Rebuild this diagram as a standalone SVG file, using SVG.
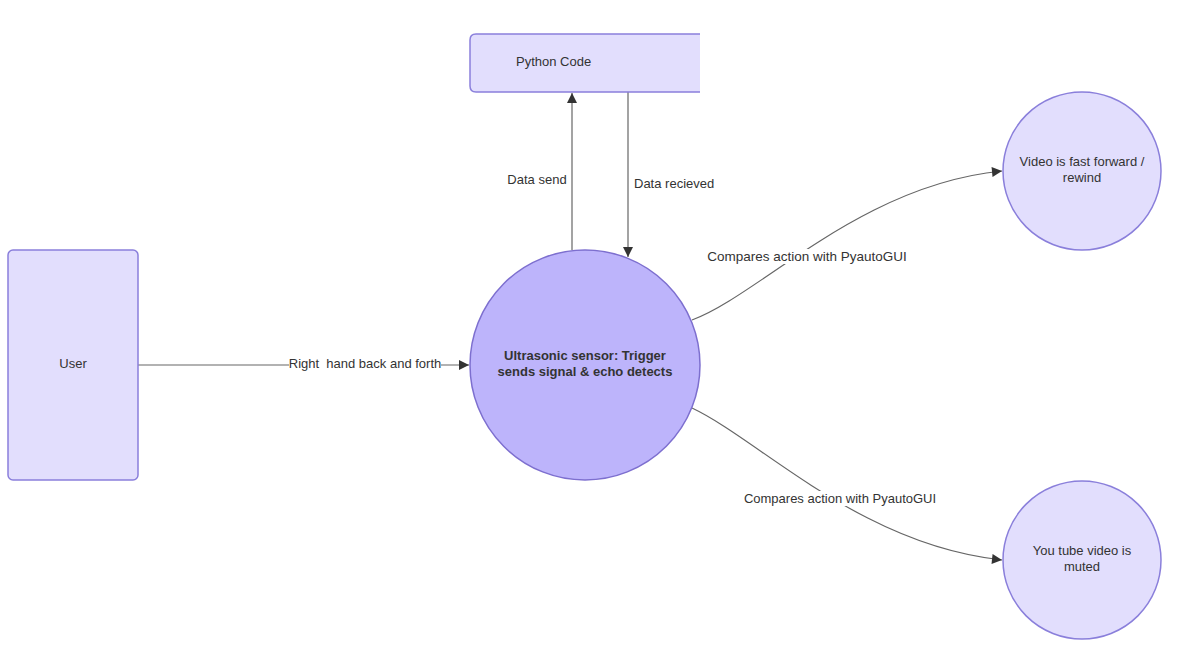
<svg xmlns="http://www.w3.org/2000/svg" width="1179" height="671" viewBox="0 0 1179 671">
<style>
text{font-family:"Liberation Sans",Arial,sans-serif;font-size:13px;fill:#333;}
.c{text-anchor:middle;}
.node{fill:#e2defd;stroke:#8a7fdb;stroke-width:1.5;}
.main{fill:#bdb4fb;stroke:#7d6fcf;stroke-width:1.5;}
.edge{fill:none;stroke:#666;stroke-width:1.2;}
.bg{fill:#fff;}
</style>
<defs>
<marker id="arr" viewBox="0 0 10 10" refX="10" refY="5" markerWidth="12" markerHeight="10" markerUnits="userSpaceOnUse" orient="auto">
<path d="M0,0 L10,5 L0,10 z" fill="#333"/>
</marker>
</defs>
<rect width="1179" height="671" fill="#fff"/>
<g id="connectors">
<path class="edge" d="M138,365 L469,365" marker-end="url(#arr)"/>
<path class="edge" d="M572,250 L572,93" marker-end="url(#arr)"/>
<path class="edge" d="M628,92 L628,257" marker-end="url(#arr)"/>
<path class="edge" d="M692,320 C760,295 860,185 1002,171" marker-end="url(#arr)"/>
<path class="edge" d="M692,408 C760,440 860,545 1002,560" marker-end="url(#arr)"/>
<rect class="bg" x="289" y="356" width="152" height="16"/>
<text x="365" y="368" class="c">Right&#160; hand back and forth</text>
<text x="537" y="184" class="c">Data send</text>
<text x="634" y="188">Data recieved</text>
<rect class="bg" x="704" y="249" width="206" height="15"/>
<text x="807" y="261" class="c" style="font-size:13.5px">Compares action with PyautoGUI</text>
<rect class="bg" x="744" y="491" width="192" height="15"/>
<text x="840" y="503" class="c">Compares action with PyautoGUI</text>
</g>
<g id="python-code">
<path d="M700,34 L476,34 Q470,34 470,40 L470,86 Q470,92 476,92 L700,92" fill="#e2defd" stroke="#8a7fdb" stroke-width="1.5"/>
<text x="516" y="66">Python Code</text>
</g>
<g id="user">
<rect class="node" x="8" y="250" width="130" height="230" rx="5"/>
<text x="73" y="368" class="c">User</text>
</g>
<g id="sensor">
<circle class="main" cx="585" cy="365" r="115"/>
<text x="585" y="360" class="c" style="font-weight:bold">Ultrasonic sensor: Trigger</text>
<text x="585" y="376" class="c" style="font-weight:bold">sends signal &amp; echo detects</text>
</g>
<g id="video-ff">
<circle class="node" cx="1082" cy="171" r="79"/>
<text x="1082" y="166" class="c">Video is fast forward /</text>
<text x="1082" y="182" class="c">rewind</text>
</g>
<g id="video-muted">
<circle class="node" cx="1082" cy="560" r="79"/>
<text x="1082" y="555" class="c">You tube video is</text>
<text x="1082" y="571" class="c">muted</text>
</g>
</svg>
